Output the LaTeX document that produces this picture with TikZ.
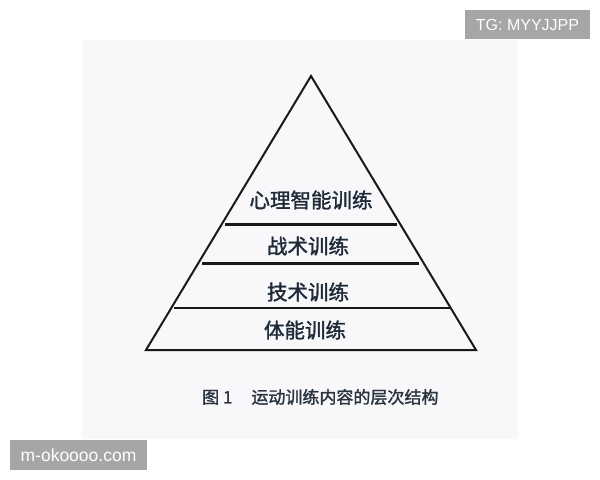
\documentclass[tikz,border=0pt]{standalone}
\usepackage{fontspec}
\setmainfont{Liberation Sans}
\newfontfamily\cjk{Noto Sans CJK SC}[FakeBold=1.6,AutoFakeBold=1.6]
\definecolor{panel}{HTML}{F8F8FB}
\definecolor{ink}{HTML}{1E2A38}
\definecolor{capink}{HTML}{2A3340}
\definecolor{wmgrey}{HTML}{A6A6A6}
\tikzset{
  edge/.style={draw=black!90, line width=2bp, line join=miter},
  tier/.style={draw=black!90, line width=2.3bp},
  label/.style={font=\cjk\bfseries\fontsize{20.5bp}{22bp}\selectfont, text=ink, inner sep=0pt},
  caption/.style={font=\cjk\bfseries\fontsize{17bp}{19bp}\selectfont, text=capink, inner sep=0pt, anchor=west},
  wm/.style={fill=wmgrey, text=white, inner sep=0pt, font=\fontsize{16bp}{18bp}\selectfont}
}
\begin{document}
\begin{tikzpicture}[x=1bp,y=-1bp]
\useasboundingbox (0,0) rectangle (600,480);
\fill[white] (0,0) rectangle (600,480);
\fill[panel] (82,40) rectangle (518,439);
% pyramid
\coordinate (apex) at (311,76);
\coordinate (bl) at (146,350);
\coordinate (br) at (476,350);
\draw[edge] (apex) -- (br) -- (bl) -- cycle;
\coordinate (l1a) at (225,224.5);
\coordinate (l1b) at (397,224.5);
\coordinate (l2a) at (202,263.5);
\coordinate (l2b) at (419,263.5);
\coordinate (l3a) at (174,308);
\coordinate (l3b) at (450,308);
\draw[tier] (l1a) -- (l1b);
\draw[tier] (l2a) -- (l2b);
\draw[tier] (l3a) -- (l3b);
\node[label] (t1) at (311,200) {心理智能训练};
\node[label] (t2) at (308,246) {战术训练};
\node[label] (t3) at (308,292) {技术训练};
\node[label] (t4) at (305,330) {体能训练};
\node[caption] (cap) at (202,397) {图 1\hspace{19bp}运动训练内容的层次结构};
% watermarks
\node[wm, minimum width=125bp, minimum height=29bp] (tg) at (527.5,24.5) {TG: MYYJJPP};
\node[wm, minimum width=137bp, minimum height=30bp, font=\fontsize{17.5bp}{19bp}\selectfont] (site) at (78.5,455) {m-okoooo.com};
\end{tikzpicture}
\end{document}
